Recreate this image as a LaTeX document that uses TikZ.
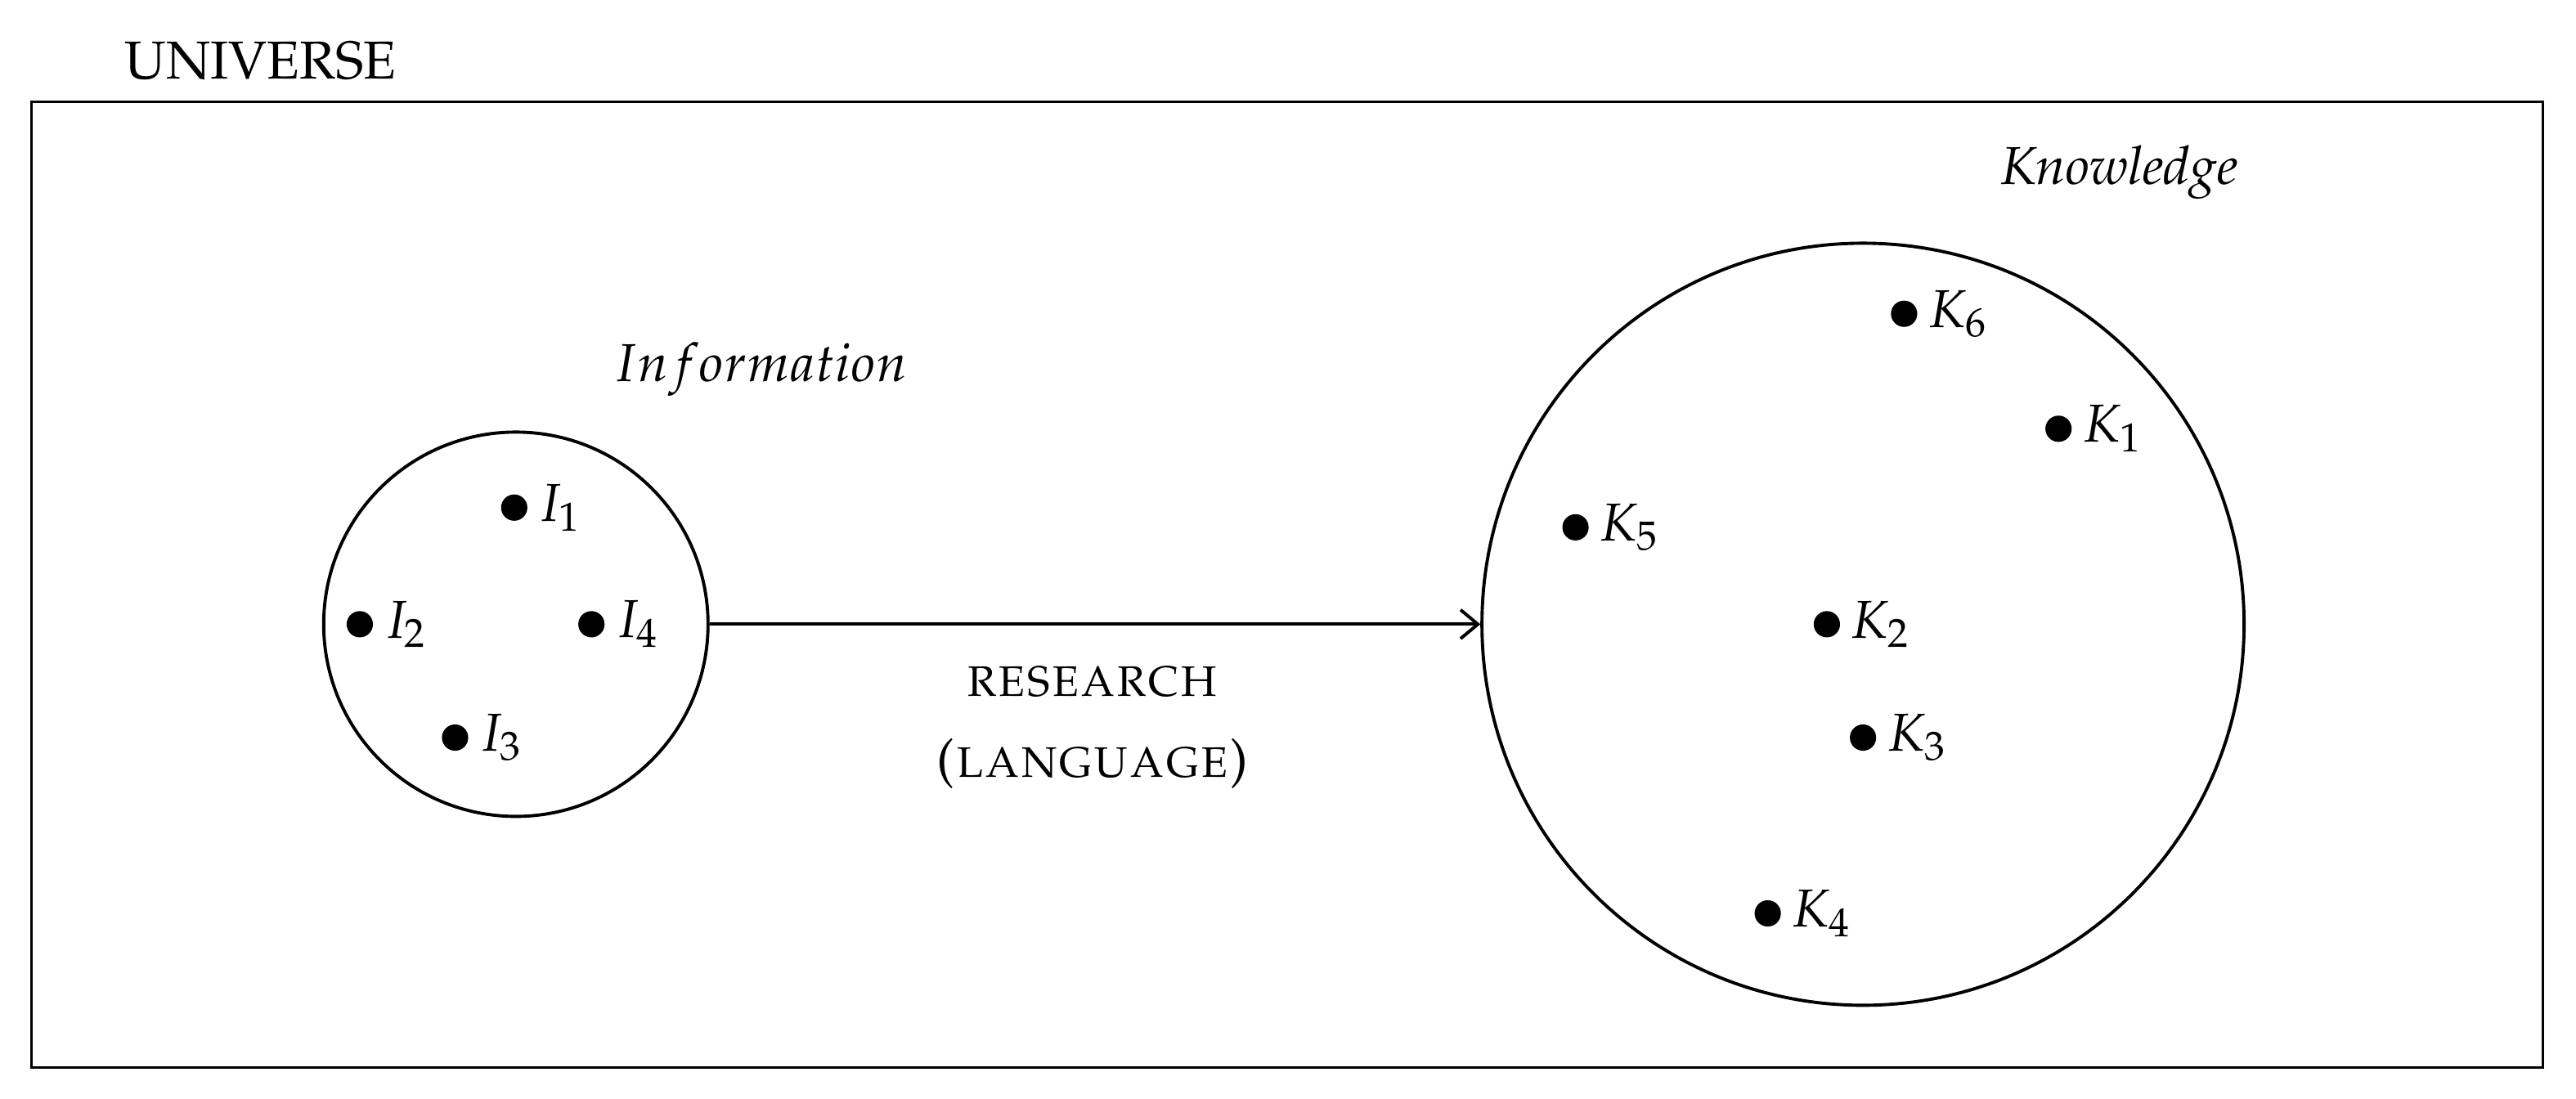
\documentclass[tikz,border=0pt]{standalone}
\usepackage[T1]{fontenc}
\usepackage{mathpazo}
\usetikzlibrary{arrows.meta}
\begin{document}
\begin{tikzpicture}[x=0.02cm,y=-0.02cm,line width=1.1pt,
  dotm/.style={circle,fill=black,inner sep=0pt,minimum size=0.32cm},
  lab/.style={font=\fontsize{18.5}{22}\selectfont,inner sep=0pt}]
\useasboundingbox (0,0) rectangle (1568,669);
\node[draw,minimum width=30.58cm,minimum height=11.76cm,inner sep=0pt,line width=1pt] (uni) at (783.5,356) {};
\node[lab,anchor=west] (ul) at (75,37) {UNIVERSE};
\node[draw,circle,minimum size=4.68cm,inner sep=0pt] (info) at (314,380) {};
\node[draw,circle,minimum size=9.28cm,inner sep=0pt] (know) at (1134,380) {};
\node[lab] (il) at (463,225) {$Information$};
\node[lab] (kl) at (1290,105) {\itshape Knowledge};
\foreach \n/\x/\y/\t in {i1/313/309/I_1,i2/219/380/I_2,i4/360/380/I_4,i3/277/449/I_3,
  k6/1159/191/K_6,k1/1253/261/K_1,k5/959/321/K_5,k2/1112/380/K_2,k3/1134/449/K_3,k4/1076/556/K_4}{
  \node[dotm] (\n) at (\x,\y) {};
  \node[lab,anchor=west] (\n t) at ([xshift=0.1cm]\n.east) {$\t$};
}
\draw[-{Straight Barb[length=6pt,width=10pt]}] (info.east) -- (know.west);
\node[lab,font=\fontsize{18.5}{22}\selectfont\scshape] (r1) at (665,415) {research};
\node[lab,font=\fontsize{18.5}{22}\selectfont\scshape] (r2) at (665,465) {(language)};
\end{tikzpicture}
\end{document}
